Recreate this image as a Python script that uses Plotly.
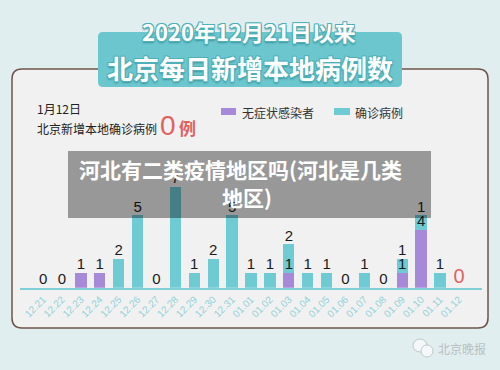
import plotly.graph_objects as go

# ---- data ----
dates = ["12.21", "12.22", "12.23", "12.24", "12.25", "12.26", "12.27", "12.28",
         "12.29", "12.30", "12.31", "01.01", "01.02", "01.03", "01.04", "01.05",
         "01.06", "01.07", "01.08", "01.09", "01.10", "01.11", "01.12"]
asymptomatic = [0, 0, 1, 1, 0, 0, 0, 0, 0, 0, 0, 0, 0, 1, 0, 0, 0, 0, 0, 1, 4, 0, 0]
confirmed = [0, 0, 0, 0, 2, 5, 0, 7, 1, 2, 5, 1, 1, 2, 1, 1, 0, 1, 0, 1, 1, 1, 0]
name_asym = "无症状感染者"
name_conf = "确诊病例"
title1 = "2020年12月21日以来"
title2 = "北京每日新增本地病例数"
today_label = "1月12日"
today_text = "北京新增本地确诊病例"
today_value = "0"
overlay1 = "河北有二类疫情地区吗(河北是几类"
overlay2 = "地区)"
watermark = "北京晚报"

W, H = 500, 370
PURPLE = "#a68ad9"
CYAN = "#6ecad3"
CJK = "Noto Sans CJK SC"
NUM = "Liberation Sans, Arial"


def px(x):
    return x / W


def py(y):
    return 1 - y / H


def rrect(x0, y0, x1, y1, r):
    pts = []
    pts.append(f"M{px(x0 + r)},{py(y0)}")
    pts.append(f"L{px(x1 - r)},{py(y0)}")
    pts.append(f"Q{px(x1)},{py(y0)} {px(x1)},{py(y0 + r)}")
    pts.append(f"L{px(x1)},{py(y1 - r)}")
    pts.append(f"Q{px(x1)},{py(y1)} {px(x1 - r)},{py(y1)}")
    pts.append(f"L{px(x0 + r)},{py(y1)}")
    pts.append(f"Q{px(x0)},{py(y1)} {px(x0)},{py(y1 - r)}")
    pts.append(f"L{px(x0)},{py(y0 + r)}")
    pts.append(f"Q{px(x0)},{py(y0)} {px(x0 + r)},{py(y0)}")
    pts.append("Z")
    return " ".join(pts)


fig = go.Figure()
fig.add_trace(go.Bar(x=dates, y=asymptomatic, name=name_asym, marker_color=PURPLE,
                     marker_line_width=0, hoverinfo="skip"))
fig.add_trace(go.Bar(x=dates, y=confirmed, name=name_conf, marker_color=CYAN,
                     marker_line_width=0, hoverinfo="skip"))

# value labels
last = len(dates) - 1
lx, ly, lt = [], [], []
zx, zy, zt = [], [], []
rx, ry, rt = [], [], []
for i, d in enumerate(dates):
    a, c = asymptomatic[i], confirmed[i]
    if a == 0 and c == 0:
        if i == last:
            rx.append(d); ry.append(0); rt.append("0")
        else:
            zx.append(d); zy.append(0); zt.append("0")
    if a > 0:
        lx.append(d); ly.append(a); lt.append(str(a))
    if c > 0:
        lx.append(d); ly.append(a + c); lt.append(str(c))

fig.add_trace(go.Scatter(x=lx + zx, y=ly + zy, text=lt + zt, mode="text",
                         textposition="top center", hoverinfo="skip",
                         textfont=dict(family=NUM, size=15, color="#1a1a1a")))
fig.add_trace(go.Scatter(x=rx, y=ry, text=rt, mode="text",
                         textposition="top center", hoverinfo="skip",
                         textfont=dict(family=NUM, size=20, color="#e0625f")))

shapes = [
    dict(type="path", path=rrect(12, 69, 488, 328, 10), xref="paper", yref="paper",
         fillcolor="#f1f1f1", line=dict(color="#6e5448", width=1.5), layer="below"),
    dict(type="path", path=rrect(98, 32, 402, 87, 5), xref="paper", yref="paper",
         fillcolor="#6cc6cd", line=dict(width=0), layer="below"),
    dict(type="rect", x0=px(221), x1=px(236), y0=py(115), y1=py(108), xref="paper",
         yref="paper", fillcolor=PURPLE, line=dict(width=0), layer="below"),
    dict(type="rect", x0=px(334), x1=px(350), y0=py(115), y1=py(108), xref="paper",
         yref="paper", fillcolor=CYAN, line=dict(width=0), layer="below"),
    dict(type="rect", x0=px(68), x1=px(431), y0=py(218), y1=py(151), xref="paper",
         yref="paper", fillcolor="rgba(0,0,0,0.37)", line=dict(width=0), layer="above"),
    dict(type="circle", x0=px(413), x1=px(427), y0=py(352), y1=py(339), xref="paper",
         yref="paper", fillcolor="#f4f8f8", line=dict(color="#c0c8ca", width=1), layer="below"),
    dict(type="circle", x0=px(421), x1=px(433), y0=py(357), y1=py(345), xref="paper",
         yref="paper", fillcolor="#f4f8f8", line=dict(color="#c0c8ca", width=1), layer="below"),
]

outline = ("-1px -1px 0 #4fb0b9, 1px -1px 0 #4fb0b9, -1px 1px 0 #4fb0b9, "
           "1px 1px 0 #4fb0b9, 0 2px 2px #3c959e")


def ann(text, x, y, size, color, xanchor="left", family=CJK, bold=False, shadow=None):
    f = dict(family=family, size=size, color=color)
    if bold:
        f["weight"] = "bold"
    if shadow:
        f["shadow"] = shadow
    return dict(text=text, x=px(x), y=py(y), xref="paper", yref="paper",
                xanchor=xanchor, yanchor="middle", showarrow=False, font=f)


annotations = [
    ann(title1, 249, 31, 22, "white", "center", bold=True, shadow=outline),
    ann(title2, 250, 67, 26, "white", "center", bold=True, shadow=outline),
    ann(today_label, 35, 108, 12, "#222222"),
    ann(today_text, 35, 128, 12, "#222222"),
    ann(today_value, 158, 125, 28, "#e0625f", family=NUM),
    ann("例", 177, 127, 17, "#e0625f", bold=True),
    ann(name_asym, 240, 112, 12, "#333333"),
    ann(name_conf, 353, 112, 12, "#333333"),
    ann(overlay1, 77, 169, 21, "white", "left", bold=True),
    ann(overlay2, 220, 197, 21, "white", "left", bold=True),
    ann(watermark, 436, 348, 12, "#b7c0c2"),
]

fig.update_layout(
    width=W, height=H,
    margin=dict(l=0, r=0, t=0, b=0),
    paper_bgcolor="#e1eeef",
    plot_bgcolor="rgba(0,0,0,0)",
    barmode="stack",
    bargap=0.4,
    showlegend=False,
    shapes=shapes,
    annotations=annotations,
    xaxis=dict(domain=[0.0399, 0.9641], type="category", showgrid=False, zeroline=False,
               showline=True, linecolor="#7fcfd7", linewidth=2, ticks="",
               tickangle=-45, tickfont=dict(family=NUM, size=10, color="#91d2d9"),
               fixedrange=True),
    yaxis=dict(domain=[1 - 287.7 / H, 1 - 143.2 / H], range=[0, 10], visible=False,
               fixedrange=True),
)

fig.write_html("out.html")
